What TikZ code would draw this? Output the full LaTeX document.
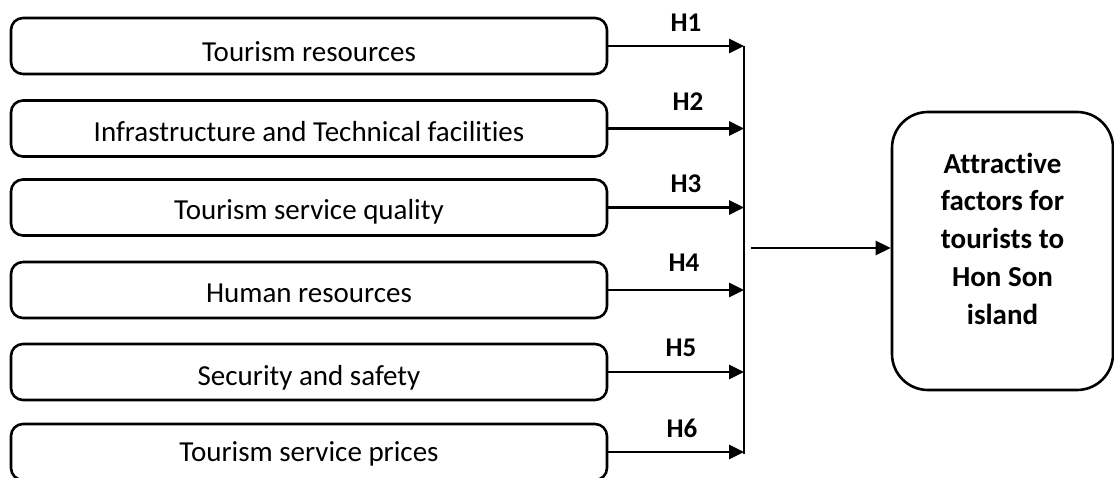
\documentclass[tikz,border=0pt]{standalone}
\usepackage{fontspec}
\setmainfont{Carlito}[Ligatures=NoCommon]
\usetikzlibrary{arrows.meta}
\begin{document}
\begin{tikzpicture}[x=1pt,y=-1pt,line width=2.6pt,
  lbox/.style n args={2}{draw, rounded corners=12pt, minimum width=596pt, minimum height=56pt,
    inner xsep=0pt, inner ysep=0pt, text height=#1, text depth=#2, font=\fontsize{29}{35}\selectfont},
  hlab/.style={anchor=base, inner sep=0pt, font=\fontsize{27}{32}\selectfont\bfseries},
  arr/.style={-{Triangle[length=15pt,width=14pt]}, line width=2.6pt}]
\clip (0,0) rectangle (1114,478);
% left boxes
\node[lbox={44pt}{12pt}] (b1) at (309,46) {Tourism resources};
\node[lbox={41pt}{15pt}] (b2) at (309,128.5) {Infrastructure and Technical facilities};
\node[lbox={40.5pt}{15.5pt}] (b3) at (309,207.5) {Tourism service quality};
\node[lbox={41pt}{15pt}] (b4) at (309,290) {Human resources};
\node[lbox={41pt}{15pt}] (b5) at (309,372) {Security and safety};
\node[lbox={37pt}{19pt}] (b6) at (309,452) {Tourism service prices};
% outcome box
\node[draw, rounded corners=36pt, minimum width=221pt, minimum height=278pt, inner sep=0pt] (out) at (1002.5,251) {};
\node[align=center, inner sep=0pt, font=\fontsize{29}{37.75}\selectfont\bfseries] (outtext) at ([yshift=12.5pt]out.center)
  {Attractive\\factors for\\tourists to\\Hon Son\\island};
% bus and arrows
\coordinate (bus) at (744,0);
\foreach \i in {1,...,6} {\draw[arr] (b\i.east) -- (b\i.east -| bus);}
\draw (b1.east -| bus) -- ([yshift=-2pt]b6.east -| bus);
\coordinate (j) at (751,248);
\draw[arr] (j) -- (j -| out.west);
% labels
\node[hlab] (h1) at (686,32) {H1};
\node[hlab] (h2) at (688,111) {H2};
\node[hlab] (h3) at (686,193) {H3};
\node[hlab] (h4) at (684,272) {H4};
\node[hlab] (h5) at (681,356) {H5};
\node[hlab] (h6) at (682,437) {H6};
\end{tikzpicture}
\end{document}
